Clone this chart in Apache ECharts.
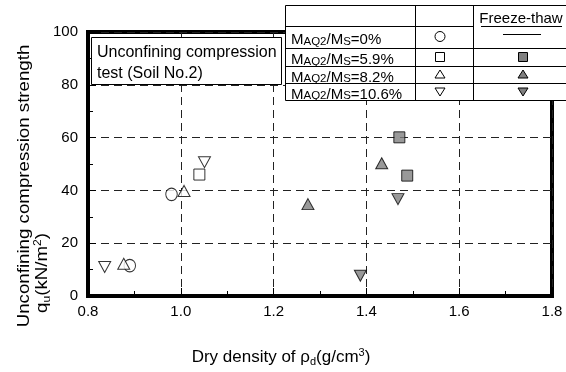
<!DOCTYPE html>
<html>
<head>
<meta charset="utf-8">
<script src="https://cdn.jsdelivr.net/npm/echarts@6/dist/echarts.min.js"></script>
<style>
  html, body { margin: 0; padding: 0; background: #fff; }
  #chart { width: 566px; height: 372px; }
</style>
</head>
<body>
<div id="chart"></div>
<script>
// dry density rho_d (g/cm3) vs unconfining compression strength qu (kN/m2)
const openCircleX = [0.98, 0.89];
const openCircleY = [38.5, 11.5];
const openSquareX = [1.04];
const openSquareY = [46];
const openTriX = [1.007, 0.877];
const openTriY = [39.8, 12.2];
const openDownX = [1.051, 0.836];
const openDownY = [50.7, 11.0];

// freeze-thaw
const ftSquareX = [1.471, 1.488];
const ftSquareY = [60.1, 45.6];
const ftTriX = [1.274, 1.433];
const ftTriY = [34.8, 50.3];
const ftDownX = [1.468, 1.387];
const ftDownY = [36.7, 7.7];

const legendRatios = ['0%', '5.9%', '8.2%', '10.6%'];

const FONT = '"Liberation Sans", Arial, sans-serif';

const zip = (xs, ys) => xs.map((x, i) => [x, ys[i]]);

const chart = echarts.init(document.getElementById('chart'));

const openStyle = { color: '#fff', borderColor: '#000', borderWidth: 1 };
const filledStyle = { color: '#808080', borderColor: '#000', borderWidth: 1 };

const mkSeries = (name, xs, ys, symbol, size, style, rotate) => ({
  name: name,
  type: 'scatter',
  symbol: symbol,
  symbolSize: size,
  symbolRotate: rotate || 0,
  itemStyle: style,
  z: 5,
  data: zip(xs, ys),
});

// legend table
const tableGraphics = [];
const rowY = [5.5, 26.5, 48.5, 66.5, 83.5, 100.5];
const colX = [285.5, 415.5, 473.5, 567];
tableGraphics.push({
  type: 'rect', z: 100,
  shape: { x: colX[0], y: rowY[0], width: colX[3] - colX[0], height: rowY[5] - rowY[0] },
  style: { fill: '#fff', stroke: '#000', lineWidth: 1 },
});
tableGraphics.push({
  type: 'line', z: 101,
  shape: { x1: colX[0], y1: rowY[1], x2: colX[2], y2: rowY[1] },
  style: { stroke: '#000', lineWidth: 1 },
});
[2, 3, 4].forEach((r) => {
  tableGraphics.push({
    type: 'line', z: 101,
    shape: { x1: colX[0], y1: rowY[r], x2: colX[3], y2: rowY[r] },
    style: { stroke: '#000', lineWidth: 1 },
  });
});
[1, 2].forEach((c) => {
  tableGraphics.push({
    type: 'line', z: 101,
    shape: { x1: colX[c], y1: rowY[0], x2: colX[c], y2: rowY[5] },
    style: { stroke: '#000', lineWidth: 1 },
  });
});
// header
tableGraphics.push({
  type: 'text', z: 102, x: 521, y: 19,
  style: { text: 'Freeze-thaw', fontSize: 15, fontFamily: FONT, fill: '#000',
    align: 'center', verticalAlign: 'middle', textAlign: 'center', textVerticalAlign: 'middle' },
});
tableGraphics.push({
  type: 'line', z: 102,
  shape: { x1: 481, y1: 26.5, x2: 562, y2: 26.5 },
  style: { stroke: '#000', lineWidth: 1 },
});
// row labels
const richRow = {
  b: { fontSize: 15, fontFamily: FONT, lineHeight: 18, verticalAlign: 'bottom', color: '#000' },
  s: { fontSize: 11.5, fontFamily: FONT, lineHeight: 14, verticalAlign: 'bottom', color: '#000' },
};
legendRatios.forEach((r, i) => {
  const cy = (rowY[i + 1] + rowY[i + 2]) / 2 + 1;
  tableGraphics.push({
    type: 'text', z: 102, x: 291, y: cy,
    style: { text: '{b|M}{s|AQ2}{b|/M}{s|S}{b|=' + r + '}', rich: richRow,
      align: 'left', verticalAlign: 'middle', textAlign: 'left', textVerticalAlign: 'middle' },
  });
});
const rc = (i) => (rowY[i + 1] + rowY[i + 2]) / 2;
// symbols, column 2 (no treatment)
tableGraphics.push({ type: 'circle', z: 102, shape: { cx: 440, cy: rc(0) - 1, r: 5 },
  style: { fill: '#fff', stroke: '#000', lineWidth: 1 } });
tableGraphics.push({ type: 'rect', z: 102, shape: { x: 435.5, y: rc(1) - 5, width: 9, height: 9 },
  style: { fill: '#fff', stroke: '#000', lineWidth: 1 } });
tableGraphics.push({ type: 'polygon', z: 102,
  shape: { points: [[440, rc(2) - 5], [445, rc(2) + 3], [435, rc(2) + 3]] },
  style: { fill: '#fff', stroke: '#000', lineWidth: 1 } });
tableGraphics.push({ type: 'polygon', z: 102,
  shape: { points: [[440, rc(3) + 4], [445, rc(3) - 4], [435, rc(3) - 4]] },
  style: { fill: '#fff', stroke: '#000', lineWidth: 1 } });
// column 3 (freeze-thaw)
tableGraphics.push({ type: 'line', z: 102, shape: { x1: 503, y1: 34.5, x2: 541, y2: 34.5 },
  style: { stroke: '#000', lineWidth: 1 } });
tableGraphics.push({ type: 'rect', z: 102, shape: { x: 518.5, y: rc(1) - 5, width: 9, height: 9 },
  style: { fill: '#808080', stroke: '#000', lineWidth: 1 } });
tableGraphics.push({ type: 'polygon', z: 102,
  shape: { points: [[523, rc(2) - 5], [528, rc(2) + 3], [518, rc(2) + 3]] },
  style: { fill: '#808080', stroke: '#000', lineWidth: 1 } });
tableGraphics.push({ type: 'polygon', z: 102,
  shape: { points: [[523, rc(3) + 4], [528, rc(3) - 4], [518, rc(3) - 4]] },
  style: { fill: '#808080', stroke: '#000', lineWidth: 1 } });

const titleRich = {
  t: { fontSize: 17, fontFamily: FONT, lineHeight: 20, color: '#000' },
  sub: { fontSize: 11, fontFamily: FONT, lineHeight: 12, verticalAlign: 'bottom', color: '#000' },
  sup: { fontSize: 11, fontFamily: FONT, lineHeight: 12, verticalAlign: 'top', color: '#000' },
};

const option = {
  animation: false,
  backgroundColor: '#fff',
  grid: {
    left: 88,
    right: 14,
    top: 32,
    bottom: 76,
    show: true,
    borderColor: '#000',
    borderWidth: 4,
  },
  xAxis: {
    type: 'value',
    min: 0.8,
    max: 1.8,
    interval: 0.2,
    axisLine: { show: true, onZero: false, lineStyle: { color: '#000', width: 4 } },
    axisTick: { show: true, inside: true, length: 8, lineStyle: { color: '#000', width: 1 } },
    minorTick: { show: true, splitNumber: 2, length: 5, lineStyle: { color: '#000', width: 1 } },
    axisLabel: {
      fontSize: 15, fontFamily: FONT, color: '#000', margin: 8,
      formatter: (v) => v.toFixed(1),
    },
    splitLine: { show: true, lineStyle: { color: '#222', width: 1, type: [8, 5] } },
  },
  yAxis: {
    type: 'value',
    min: 0,
    max: 100,
    interval: 20,
    axisLine: { show: true, onZero: false, lineStyle: { color: '#000', width: 4 } },
    axisTick: { show: true, inside: true, length: 8, lineStyle: { color: '#000', width: 1 } },
    minorTick: { show: true, splitNumber: 2, length: 5, lineStyle: { color: '#000', width: 1 } },
    axisLabel: { fontSize: 15, fontFamily: FONT, color: '#000', margin: 10 },
    splitLine: { show: true, lineStyle: { color: '#222', width: 1, type: [8, 5] } },
  },
  series: [
    mkSeries('MAQ2/MS=0%', openCircleX, openCircleY, 'circle', [11.5, 12.5], openStyle),
    mkSeries('MAQ2/MS=5.9%', openSquareX, openSquareY, 'rect', 11, openStyle),
    mkSeries('MAQ2/MS=8.2%', openTriX, openTriY, 'triangle', [12, 11], openStyle),
    mkSeries('MAQ2/MS=10.6%', openDownX, openDownY, 'triangle', [12, 11], openStyle, 180),
    mkSeries('Freeze-thaw 5.9%', ftSquareX, ftSquareY, 'rect', 11, filledStyle),
    mkSeries('Freeze-thaw 8.2%', ftTriX, ftTriY, 'triangle', [12, 11], filledStyle),
    mkSeries('Freeze-thaw 10.6%', ftDownX, ftDownY, 'triangle', [12, 11], filledStyle, 180),
  ],
  graphic: [
    // test label box
    {
      type: 'rect', z: 100,
      shape: { x: 91.5, y: 37.5, width: 190, height: 47 },
      style: { fill: '#fff', stroke: '#000', lineWidth: 1 },
    },
    {
      type: 'text', z: 101, x: 97, y: 53,
      style: { text: 'Unconfining compression', fontSize: 16, fontFamily: FONT, fill: '#000',
        align: 'left', verticalAlign: 'middle', textAlign: 'left', textVerticalAlign: 'middle' },
    },
    {
      type: 'text', z: 101, x: 97, y: 74,
      style: { text: 'test (Soil No.2)', fontSize: 16, fontFamily: FONT, fill: '#000',
        align: 'left', verticalAlign: 'middle', textAlign: 'left', textVerticalAlign: 'middle' },
    },
    // axis titles
    {
      type: 'text', z: 101, x: 24, y: 186, rotation: Math.PI / 2, scaleX: 1.1,
      style: { text: 'Unconfining compression strength', fontSize: 17, fontFamily: FONT, fill: '#000',
        align: 'center', verticalAlign: 'middle', textAlign: 'center', textVerticalAlign: 'middle' },
    },
    {
      type: 'text', z: 101, x: 42, y: 273, rotation: Math.PI / 2, scaleX: 1.1,
      style: { text: '{t|q}{sub|u}{t|(kN/m}{sup|2}{t|)}', rich: titleRich,
        align: 'center', verticalAlign: 'middle', textAlign: 'center', textVerticalAlign: 'middle' },
    },
    {
      type: 'text', z: 101, x: 281, y: 357,
      style: { text: '{t|Dry density of ρ}{sub|d}{t|(g/cm}{sup|3}{t|)}', rich: titleRich,
        align: 'center', verticalAlign: 'middle', textAlign: 'center', textVerticalAlign: 'middle' },
    },
    ...tableGraphics,
  ],
};

chart.setOption(option);
window.addEventListener('resize', () => chart.resize());
</script>
</body>
</html>
